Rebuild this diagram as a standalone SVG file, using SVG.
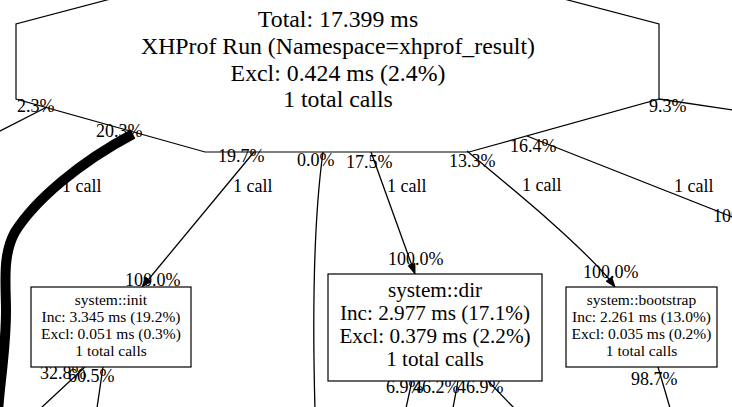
<svg xmlns="http://www.w3.org/2000/svg" width="732" height="407" viewBox="0 0 732 407">
<style>
text{font-family:'Liberation Serif','DejaVu Serif',serif;fill:#000}
.big{font-size:23.8px;text-anchor:middle}
.mid{font-size:21.2px;text-anchor:middle}
.sm{font-size:15.5px;text-anchor:middle}
.lb{font-size:18px}
.node{fill:#fff;stroke:#000;stroke-width:1.2}
.e{fill:none;stroke:#000;stroke-width:1.3}
.ah{fill:#000;stroke:#000;stroke-width:1}
</style>
<rect width="732" height="407" fill="#fff"/>
<g id="connectors">
  <text class="lb" x="96" y="137">20.3%</text>
  <path class="e" d="M133,134 C80,162 35,200 15,232 C2,255 6,285 6,310 C6,350 0,380 -2,412" style="stroke-width:10"/>
  <text class="lb" x="62" y="192">1 call</text>
  <path class="e" d="M47,107 L-2,132"/>
  <text class="lb" x="17" y="112">2.3%</text>
  <path class="e" d="M254,152 L148,280"/>
  <polygon class="ah" points="142,287 151.1,281.5 145.7,277.1"/>
  <text class="lb" x="218" y="162">19.7%</text>
  <text class="lb" x="233" y="192">1 call</text>
  <text class="lb" x="125" y="286">100.0%</text>
  <path class="e" d="M323,152 C315,210 312,300 315,410"/>
  <text class="lb" x="297" y="166">0.0%</text>
  <path class="e" d="M371,152 L411.6,264.6"/>
  <polygon class="ah" points="415,274 414.9,263.4 408.3,265.8"/>
  <text class="lb" x="346" y="168">17.5%</text>
  <text class="lb" x="387" y="192">1 call</text>
  <text class="lb" x="388" y="265">100.0%</text>
  <path class="e" d="M467,151 C520,195 575,240 609,279"/>
  <polygon class="ah" points="615,287 611.7,277 606.1,281.2"/>
  <text class="lb" x="449" y="167">13.3%</text>
  <text class="lb" x="522" y="191">1 call</text>
  <text class="lb" x="583" y="278">100.0%</text>
  <path class="e" d="M527,136 L740,220"/>
  <text class="lb" x="510" y="152">16.4%</text>
  <text class="lb" x="674" y="192">1 call</text>
  <text class="lb" x="713" y="222">100.0%</text>
  <path class="e" d="M659,99 L740,111"/>
  <text class="lb" x="649" y="112">9.3%</text>
  <path class="e" d="M85,367 L41,408"/>
  <path class="e" d="M103,367 L97,408"/>
  <text class="lb" x="40" y="379">32.8%</text>
  <text class="lb" x="68" y="382">60.5%</text>
  <path class="e" d="M412,381 L406,408"/>
  <path class="e" d="M458,381 L453,408"/>
  <path class="e" d="M488,381 L514,408"/>
  <text class="lb" x="386" y="393">6.9%</text>
  <text class="lb" x="413" y="393">46.2%</text>
  <text class="lb" x="457" y="393">46.9%</text>
  <path class="e" d="M658,367 L670,408"/>
  <text class="lb" x="631" y="385">98.7%</text>
</g>
<g id="node-main">
  <polygon class="node" points="16,24 16,99 205,152 469,152 659,99 659,24 469,-26 205,-26" style="fill:none"/>
  <text class="big" x="338" y="27">Total: 17.399 ms</text>
  <text class="big" x="338" y="54">XHProf Run (Namespace=xhprof_result)</text>
  <text class="big" x="338" y="81">Excl: 0.424 ms (2.4%)</text>
  <text class="big" x="338" y="107">1 total calls</text>
</g>
<g id="node-init">
  <rect class="node" x="31" y="287" width="160" height="80"/>
  <text class="sm" x="111" y="305">system::init</text>
  <text class="sm" x="111" y="322">Inc: 3.345 ms (19.2%)</text>
  <text class="sm" x="111" y="339">Excl: 0.051 ms (0.3%)</text>
  <text class="sm" x="111" y="356">1 total calls</text>
</g>
<g id="node-dir">
  <rect class="node" x="328" y="274" width="214" height="107"/>
  <text class="mid" x="435" y="297">system::dir</text>
  <text class="mid" x="435" y="320">Inc: 2.977 ms (17.1%)</text>
  <text class="mid" x="435" y="343">Excl: 0.379 ms (2.2%)</text>
  <text class="mid" x="435" y="366">1 total calls</text>
</g>
<g id="node-bootstrap">
  <rect class="node" x="566" y="287" width="151" height="80"/>
  <text class="sm" x="641.5" y="305">system::bootstrap</text>
  <text class="sm" x="641.5" y="322">Inc: 2.261 ms (13.0%)</text>
  <text class="sm" x="641.5" y="339">Excl: 0.035 ms (0.2%)</text>
  <text class="sm" x="641.5" y="356">1 total calls</text>
</g>
</svg>
